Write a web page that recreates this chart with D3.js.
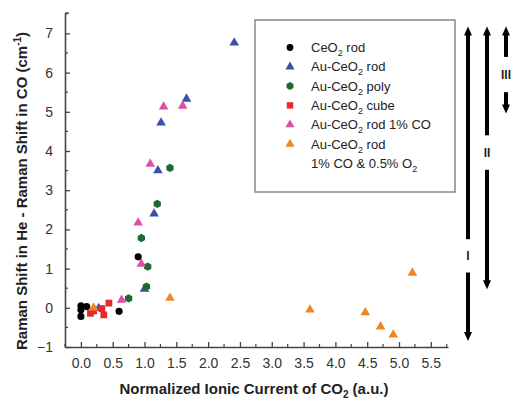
<!DOCTYPE html>
<html>
<head>
<meta charset="utf-8">
<script src="https://cdn.jsdelivr.net/npm/d3@7"></script>
<style>
  body { margin: 0; background: #fff; }
  text { font-family: "Liberation Sans", Arial, sans-serif; }
</style>
</head>
<body>
<svg id="chart" width="518" height="403"></svg>
<script>
// series: [x, y] = [normalized ionic current of CO2, Raman shift difference]
var ceo2Rod = [[0.0, 0.05], [0.0, -0.05], [0.0, -0.22], [0.09, 0.03], [0.6, -0.09], [0.9, 1.3]];
var auRod = [[0.28, -0.01], [1.0, 0.48], [1.15, 2.4], [1.21, 3.5], [1.26, 4.72], [1.66, 5.33], [2.41, 6.76]];
var auPoly = [[0.75, 0.24], [1.03, 0.54], [1.05, 1.05], [0.95, 1.78], [1.2, 2.65], [1.4, 3.57]];
var auCube = [[0.15, -0.14], [0.2, -0.08], [0.33, -0.02], [0.36, -0.18], [0.44, 0.12]];
var auRodCO = [[0.64, 0.2], [0.95, 1.12], [0.9, 2.17], [1.09, 3.67], [1.3, 5.13], [1.6, 5.15]];
var auRodCOO2 = [[0.2, 0.0], [1.4, 0.25], [3.6, -0.05], [4.47, -0.12], [4.71, -0.48], [4.91, -0.69], [5.21, 0.89]];

var xTicks = [0, 0.5, 1, 1.5, 2, 2.5, 3, 3.5, 4, 4.5, 5, 5.5];
var yTicks = [-1, 0, 1, 2, 3, 4, 5, 6, 7];

// regime arrows (y range in data units)
var regimes = [
  { label: "I", top: 7.15, bottom: -0.82, gapFrom: 1.75, gapTo: 0.9 },
  { label: "II", top: 7.15, bottom: 0.5, gapFrom: 4.4, gapTo: 3.52 },
  { label: "III", top: 7.15, bottom: 4.98, gapFrom: 6.4, gapTo: 5.5 }
];

var hexagon = {
  draw: function (ctx, size) {
    var r = Math.sqrt(size / (1.5 * Math.sqrt(3)));
    for (var i = 0; i < 6; i++) {
      var a = Math.PI / 6 + i * Math.PI / 3;
      if (i === 0) ctx.moveTo(r * Math.cos(a), r * Math.sin(a));
      else ctx.lineTo(r * Math.cos(a), r * Math.sin(a));
    }
    ctx.closePath();
  }
};

var series = [
  { name: ["CeO", "2", " rod"], data: ceo2Rod, color: "#000000", type: d3.symbolCircle, size: 40 },
  { name: ["Au-CeO", "2", " rod"], data: auRod, color: "#3d4fa6", type: d3.symbolTriangle, size: 40 },
  { name: ["Au-CeO", "2", " poly"], data: auPoly, color: "#1d6b30", type: hexagon, size: 46 },
  { name: ["Au-CeO", "2", " cube"], data: auCube, color: "#e8282c", type: d3.symbolSquare, size: 46 },
  { name: ["Au-CeO", "2", " rod 1% CO"], data: auRodCO, color: "#dc4fa8", type: d3.symbolTriangle, size: 40 },
  { name: ["Au-CeO", "2", " rod"], data: auRodCOO2, color: "#ee8626", type: d3.symbolTriangle, size: 40 }
];

var svg = d3.select("#chart");

var x = d3.scaleLinear().domain([-0.25, 5.77]).range([65, 448]);
var y = d3.scaleLinear().domain([-1, 7.52]).range([347, 13]);

var axisColor = "#444";

// x axis, ticks pointing up
var gx = svg.append("g").attr("transform", "translate(0," + y(-1) + ")");
gx.call(d3.axisBottom(x).tickValues(xTicks).tickFormat(d3.format(".1f")).tickSizeInner(-5).tickSizeOuter(0).tickPadding(11));
gx.selectAll(".tick line").attr("stroke", axisColor).attr("stroke-width", 1.3);
gx.selectAll(".tick text").attr("font-size", 14).attr("fill", "#333")
  .attr("font-family", "Liberation Sans, Arial, sans-serif");
gx.select(".domain").attr("stroke", axisColor).attr("stroke-width", 1.6);
gx.selectAll(".minor").data(d3.range(-0.25, 5.76, 0.5)).enter().append("line")
  .attr("x1", function (d) { return x(d); }).attr("x2", function (d) { return x(d); })
  .attr("y1", 0).attr("y2", -3).attr("stroke", axisColor).attr("stroke-width", 1.2);

// y axis, ticks pointing right
var gy = svg.append("g").attr("transform", "translate(" + x(-0.25) + ",0)");
gy.call(d3.axisLeft(y).tickValues(yTicks).tickSizeInner(-5).tickSizeOuter(0).tickPadding(12));
gy.selectAll(".tick line").attr("stroke", axisColor).attr("stroke-width", 1.3);
gy.selectAll(".tick text").attr("font-size", 14).attr("fill", "#333")
  .attr("font-family", "Liberation Sans, Arial, sans-serif");
gy.select(".domain").attr("stroke", axisColor).attr("stroke-width", 1.6);
gy.selectAll(".minor").data(d3.range(-0.5, 7.6, 1)).enter().append("line")
  .attr("y1", function (d) { return y(d); }).attr("y2", function (d) { return y(d); })
  .attr("x1", 0).attr("x2", 3).attr("stroke", axisColor).attr("stroke-width", 1.2);
gy.append("line").attr("x1", 0).attr("x2", 4).attr("y1", y(7.52)).attr("y2", y(7.52))
  .attr("stroke", axisColor).attr("stroke-width", 1.3);

// points
var sym = d3.symbol();
series.forEach(function (s) {
  svg.append("g").selectAll("path").data(s.data).enter().append("path")
    .attr("transform", function (d) { return "translate(" + x(d[0]) + "," + y(d[1]) + ")"; })
    .attr("d", sym.type(s.type).size(s.size)())
    .attr("fill", s.color);
});

// legend
var legend = svg.append("g");
legend.append("rect").attr("x", 255).attr("y", 20).attr("width", 200).attr("height", 172)
  .attr("fill", "none").attr("stroke", "#888").attr("stroke-width", 1.5);
series.forEach(function (s, i) {
  var ly = 47.5 + i * 19.3;
  legend.append("path").attr("transform", "translate(290," + ly + ")")
    .attr("d", sym.type(s.type).size(s.size * 0.9)()).attr("fill", s.color);
  var t = legend.append("text").attr("x", 311).attr("y", ly + 4.5).attr("font-size", 13).attr("fill", "#222");
  t.append("tspan").text(s.name[0]);
  t.append("tspan").attr("font-size", 9).attr("dy", 4).text(s.name[1]);
  t.append("tspan").attr("dy", -4).text(s.name[2]);
});
var t6 = legend.append("text").attr("x", 311).attr("y", 47.5 + 6 * 19.3 + 4.5).attr("font-size", 13).attr("fill", "#222");
t6.append("tspan").text("1% CO & 0.5% O");
t6.append("tspan").attr("font-size", 9).attr("dy", 4).text("2");

// regime arrows
var arrowX = [468, 487, 506];
var ga = svg.append("g");
regimes.forEach(function (r, i) {
  var ax = arrowX[i];
  var yt = y(r.top), yb = y(r.bottom);
  var g1 = y(r.gapFrom), g2 = y(r.gapTo);
  // shafts
  ga.append("rect").attr("x", ax - 2).attr("y", yt + 6).attr("width", 4).attr("height", g1 - yt - 6).attr("fill", "#000");
  ga.append("rect").attr("x", ax - 2).attr("y", g2).attr("width", 4).attr("height", yb - 6 - g2).attr("fill", "#000");
  // heads
  ga.append("path").attr("d", "M" + ax + "," + (yt - 1) + "L" + (ax + 4) + "," + (yt + 8) + "L" + (ax - 4) + "," + (yt + 8) + "Z").attr("fill", "#000");
  ga.append("path").attr("d", "M" + ax + "," + (yb + 1) + "L" + (ax + 4) + "," + (yb - 8) + "L" + (ax - 4) + "," + (yb - 8) + "Z").attr("fill", "#000");
  ga.append("text").attr("x", ax).attr("y", (g1 + g2) / 2 + 4.5).attr("text-anchor", "middle")
    .attr("font-family", "Liberation Serif, Times New Roman, serif").attr("font-weight", "bold")
    .attr("font-size", 12).attr("fill", "#222").text(r.label);
});

// axis titles
var xt = svg.append("text").attr("x", 254).attr("y", 394).attr("text-anchor", "middle")
  .attr("font-size", 15).attr("font-weight", "bold").attr("fill", "#222");
xt.append("tspan").text("Normalized Ionic Current of CO");
xt.append("tspan").attr("font-size", 10).attr("dy", 4).text("2");
xt.append("tspan").attr("dy", -4).text(" (a.u.)");

var yt = svg.append("text").attr("transform", "translate(27,191) rotate(-90)").attr("text-anchor", "middle")
  .attr("font-size", 15).attr("font-weight", "bold").attr("fill", "#222");
yt.append("tspan").text("Raman Shift in He - Raman Shift in CO (cm");
yt.append("tspan").attr("font-size", 10).attr("dy", -6).text("-1");
yt.append("tspan").attr("dy", 6).text(")");
</script>
</body>
</html>
